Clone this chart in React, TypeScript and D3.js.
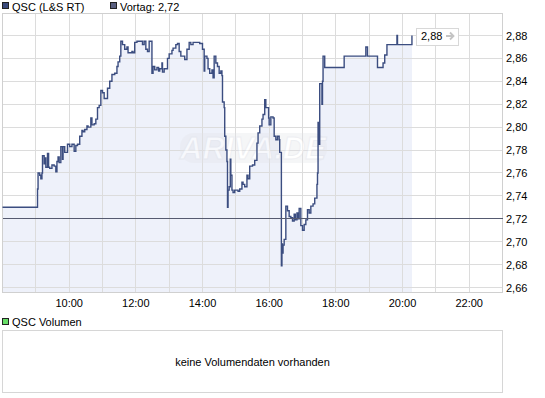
import React from "react";
import * as d3 from "d3";

const priceTimes = [
  "08:00","09:03","09:04","09:07","09:09","09:11","09:12","09:15","09:16","09:18",
  "09:21","09:23","09:25","09:29","09:33","09:36","09:38","09:40","09:42","09:45",
  "09:48","09:49","09:52","09:57","10:01","10:05","10:09","10:12","10:15","10:19",
  "10:23","10:25","10:28","10:32","10:34","10:39","10:41","10:45","10:48","10:51",
  "10:54","10:57","11:00","11:03","11:09","11:13","11:17","11:22","11:26","11:28",
  "11:31","11:33","11:36","11:40","11:44","11:46","11:53","11:55","11:58","12:02",
  "12:12","12:15","12:18","12:21","12:24","12:29","12:31","12:34","12:38","12:41",
  "12:43","12:47","12:48","12:51","12:57","13:00","13:05","13:07","13:12","13:15",
  "13:18","13:21","13:28","13:32","13:36","13:39","13:43","13:55","14:00","14:03",
  "14:04","14:08","14:10","14:13","14:17","14:19","14:21","14:24","14:27","14:30",
  "14:33","14:35","14:36","14:39","14:40","14:42","14:44","14:45","14:46","14:48",
  "14:50","14:51","14:53","14:55","14:58","15:04","15:07","15:11","15:13","15:16",
  "15:20","15:22","15:25","15:30","15:34","15:38","15:40","15:43","15:47","15:49",
  "15:52","15:54","15:59","16:00","16:03","16:07","16:09","16:12","16:15","16:18",
  "16:19","16:22","16:23","16:24","16:25","16:27","16:30","16:33","16:36","16:39",
  "16:42","16:45","16:47","16:50","16:52","16:54","16:57","17:00","17:03","17:06",
  "17:09","17:12","17:15","17:19","17:22","17:26","17:27","17:28","17:30","17:31",
  "17:35","17:36","17:37","17:40","18:15","18:54","18:57","19:15","19:25","19:28",
  "19:32","19:50","19:51","20:17"
];

const priceValues = [
  2.730,2.746,2.760,2.758,2.755,2.760,2.775,2.768,2.773,2.765,
  2.777,2.765,2.764,2.767,2.766,2.761,2.770,2.774,2.769,2.783,
  2.772,2.783,2.778,2.785,2.783,2.785,2.779,2.784,2.785,2.792,
  2.797,2.796,2.798,2.801,2.800,2.808,2.802,2.803,2.807,2.817,
  2.819,2.832,2.830,2.825,2.834,2.840,2.846,2.847,2.853,2.857,
  2.862,2.875,2.872,2.868,2.870,2.865,2.866,2.865,2.874,2.875,
  2.872,2.875,2.868,2.866,2.875,2.847,2.853,2.850,2.852,2.849,
  2.851,2.856,2.848,2.851,2.860,2.864,2.867,2.869,2.872,2.873,
  2.866,2.862,2.859,2.868,2.874,2.872,2.874,2.873,2.868,2.849,
  2.862,2.860,2.851,2.847,2.850,2.843,2.862,2.856,2.853,2.847,
  2.849,2.845,2.822,2.817,2.792,2.780,2.770,2.730,2.745,2.748,
  2.772,2.758,2.745,2.743,2.745,2.744,2.746,2.752,2.750,2.748,
  2.758,2.755,2.766,2.767,2.771,2.786,2.795,2.801,2.807,2.811,
  2.824,2.817,2.808,2.802,2.809,2.808,2.792,2.789,2.792,2.789,
  2.778,2.679,2.698,2.690,2.697,2.702,2.731,2.727,2.722,2.721,
  2.718,2.724,2.719,2.725,2.720,2.729,2.714,2.710,2.715,2.719,
  2.728,2.725,2.731,2.733,2.738,2.750,2.760,2.804,2.785,2.838,
  2.820,2.840,2.862,2.852,2.862,2.870,2.862,2.852,2.856,2.863,
  2.872,2.880,2.872,2.880
];

const yTickValues = [2.66, 2.68, 2.70, 2.72, 2.74, 2.76, 2.78, 2.80, 2.82, 2.84, 2.86, 2.88];
const xGridHours = [9, 10, 11, 12, 13, 14, 15, 16, 17, 18, 19, 20, 21, 22];
const xTickHours = [10, 12, 14, 16, 18, 20, 22];
const previousClose = 2.72;
const lastPrice = 2.88;
const seriesName = "QSC (L&S RT)";
const prevLabel = "Vortag: 2,72";
const volumeLabel = "QSC Volumen";
const volumeEmpty = "keine Volumendaten vorhanden";

const FONT = "'Liberation Sans', Arial, sans-serif";

function toHours(s: string): number {
  const [h, m] = s.split(":").map(Number);
  return h + m / 60;
}

const fmtNum = (v: number) => d3.format(".2f")(v).replace(".", ",");
const fmtHour = (h: number) => `${d3.format("02d")(h)}:00`;

export default function App() {
  const W = 545, H = 398;
  const L = 2.5, R = 502.5, T = 13.5, B = 292.5;

  const x = d3.scaleLinear().domain([8, 23]).range([L, R]);
  const y = d3.scaleLinear().domain([2.66, 2.88]).range([287.5, 35.5]);

  const data = priceTimes.map((t, i) => ({ t: toHours(t), v: priceValues[i] }));

  const line = d3.line<{ t: number; v: number }>()
    .x(d => x(d.t))
    .y(d => y(d.v))
    .curve(d3.curveStepAfter);
  const area = d3.area<{ t: number; v: number }>()
    .x(d => x(d.t))
    .y0(B)
    .y1(d => y(d.v))
    .curve(d3.curveStepAfter);

  const snap = (v: number) => Math.round(v - 0.5) + 0.5;
  const last = data[data.length - 1];
  const boxX = x(last.t) + 4;
  const boxY = y(lastPrice);

  return (
    <svg width={W} height={H} style={{ position: "absolute", left: 0, top: 0, background: "#fff" }}
      fontFamily={FONT}>
      {/* header legend */}
      <rect x={2.5} y={2.5} width={6} height={6} fill="#3a4a7c" stroke="#222" strokeWidth={1} />
      <text x={12} y={11} fontSize={11} fill="#000">{seriesName}</text>
      <rect x={110.5} y={2.5} width={6} height={6} fill="#5a6080" stroke="#222" strokeWidth={1} />
      <text x={120} y={11} fontSize={11} fill="#000">{prevLabel}</text>

      {/* area */}
      <path d={area(data) || ""} fill="#eef1fa" />

      {/* grid */}
      <g stroke="#dcdcdc" strokeWidth={1} shapeRendering="crispEdges">
        {xGridHours.map(h => (
          <line key={h} x1={snap(x(h))} x2={snap(x(h))} y1={T} y2={B} />
        ))}
        {yTickValues.map(v => (
          <line key={v} x1={L} x2={R} y1={snap(y(v))} y2={snap(y(v))} />
        ))}
      </g>

      {/* watermark */}
      <g opacity={0.55}>
        <rect x={180} y={133} width={147} height={30} rx={14} fill="#e2e4ea" opacity={0.6} />
        <text x={253} y={159} textAnchor="middle" fontSize={31} fontWeight="bold" fontStyle="italic"
          fill="#ffffff" stroke="#e0e2e8" strokeWidth={1}>ARIVA.DE</text>
      </g>

      {/* plot border */}
      <rect x={L} y={T} width={R - L} height={B - T} fill="none" stroke="#d0d0d0" shapeRendering="crispEdges" />

      {/* price line */}
      <path d={line(data) || ""} fill="none" stroke="#3b4d80" strokeWidth={1.4} />

      {/* previous close */}
      <line x1={L} x2={R} y1={snap(y(previousClose))} y2={snap(y(previousClose))} stroke="#555a70"
        strokeWidth={1} shapeRendering="crispEdges" />

      {/* last price box */}
      <rect x={Math.round(boxX) + 0.5} y={Math.round(boxY - 8) + 0.5} width={42} height={17} fill="#fff"
        stroke="#d8d8d8" shapeRendering="crispEdges" />
      <text x={Math.round(boxX) + 5} y={boxY + 4.5} fontSize={11} fill="#000">{fmtNum(lastPrice)}</text>
      <path d={`M${Math.round(boxX) + 30},${boxY + 0.5} h7 M${Math.round(boxX) + 34},${boxY - 3} l3.5,3.5 l-3.5,3.5`}
        fill="none" stroke="#c4c4c4" strokeWidth={1.8} />

      {/* y labels */}
      {yTickValues.map(v => (
        <text key={v} x={506} y={y(v) + 4} fontSize={11} fill="#000">{fmtNum(v)}</text>
      ))}

      {/* x labels */}
      {xTickHours.map(h => (
        <text key={h} x={x(h)} y={306.5} fontSize={11} textAnchor="middle" fill="#000">{fmtHour(h)}</text>
      ))}

      {/* volume section */}
      <rect x={2.5} y={318.5} width={6} height={6} fill="#66dd66" stroke="#222" strokeWidth={1} />
      <text x={12} y={326} fontSize={11} fill="#000">{volumeLabel}</text>
      <rect x={L} y={330.5} width={R - L} height={62} fill="#fff" stroke="#d6d6d6" shapeRendering="crispEdges" />
      <text x={(L + R) / 2} y={365.5} fontSize={11} textAnchor="middle" fill="#000">{volumeEmpty}</text>
    </svg>
  );
}
